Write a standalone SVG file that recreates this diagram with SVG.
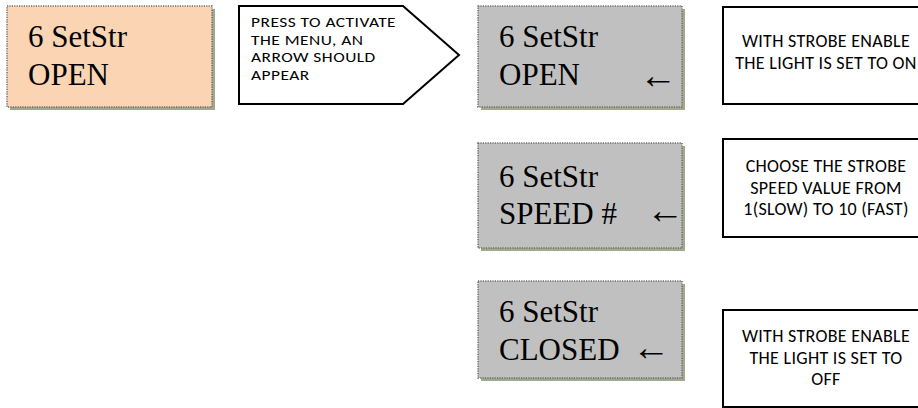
<svg xmlns="http://www.w3.org/2000/svg" width="918" height="408" viewBox="0 0 918 408">
<style>
.shadow{fill:#a2aa8e}
.lcd{stroke:#6a6a6a;stroke-width:1.5;stroke-dasharray:1.2 1.2}
.orange{fill:#fbd4b4}
.grey{fill:#c0c0c0}
.big{font-family:"Liberation Serif","Times New Roman",serif;font-size:31px;fill:#000}
.arr{font-family:"Liberation Serif","Times New Roman",serif;font-size:38px;fill:#000}
.note{font-family:Carlito,Calibri,"Liberation Sans",Arial,sans-serif;fill:#000}
.call{font-size:14.5px;letter-spacing:0.4px}
.side{font-size:18px;letter-spacing:0.3px}
.box{fill:#fff;stroke:#000;stroke-width:2}
</style>
<rect width="918" height="408" fill="#fff"/>
<g id="node-start">
<rect class="shadow" x="10" y="9" width="205" height="101"/>
<rect class="orange lcd" x="7" y="6" width="205" height="101"/>
<text class="big" x="28" y="47">6 SetStr</text>
<text class="big" x="28" y="85">OPEN</text>
</g>
<g id="node-callout">
<polygon class="box" stroke-width="1.8" points="239,6 403,6 459,55 403,104 239,104"/>
<g transform="translate(251,0) scale(1.2,1)">
<text class="note call" x="0" y="27">PRESS TO ACTIVATE</text>
<text class="note call" x="0" y="44.7">THE MENU, AN</text>
<text class="note call" x="0" y="62.4">ARROW SHOULD</text>
<text class="note call" x="0" y="80.1">APPEAR</text>
</g>
</g>
<g id="node-open">
<rect class="shadow" x="481" y="9" width="204" height="101"/>
<rect class="grey lcd" x="478" y="6" width="204" height="101"/>
<text class="big" x="499" y="47">6 SetStr</text>
<text class="big" x="499" y="85">OPEN</text>
<text class="arr" x="639" y="88">←</text>
</g>
<g id="node-speed">
<rect class="shadow" x="481" y="146" width="204" height="105"/>
<rect class="grey lcd" x="478" y="143" width="204" height="105"/>
<text class="big" x="499" y="187">6 SetStr</text>
<text class="big" x="499" y="224">SPEED #</text>
<text class="arr" x="646" y="223">←</text>
</g>
<g id="node-closed">
<rect class="shadow" x="481" y="284" width="204" height="97"/>
<rect class="grey lcd" x="478" y="281" width="204" height="97"/>
<text class="big" x="499" y="322">6 SetStr</text>
<text class="big" x="499" y="360">CLOSED</text>
<text class="arr" x="632" y="360">←</text>
</g>
<g id="node-note-on">
<rect class="box" x="723" y="7" width="220" height="97"/>
<text class="note side" text-anchor="middle" x="826" y="47">WITH STROBE ENABLE</text>
<text class="note side" text-anchor="middle" x="826" y="68.5">THE LIGHT IS SET TO ON</text>
</g>
<g id="node-note-speed">
<rect class="box" x="723" y="139" width="220" height="98"/>
<text class="note side" text-anchor="middle" x="826" y="172">CHOOSE THE STROBE</text>
<text class="note side" text-anchor="middle" x="826" y="193.5">SPEED VALUE FROM</text>
<text class="note side" text-anchor="middle" x="826" y="215">1(SLOW) TO 10 (FAST)</text>
</g>
<g id="node-note-off">
<rect class="box" x="723" y="310" width="220" height="97"/>
<text class="note side" text-anchor="middle" x="826" y="342">WITH STROBE ENABLE</text>
<text class="note side" text-anchor="middle" x="826" y="363.5">THE LIGHT IS SET TO</text>
<text class="note side" text-anchor="middle" x="826" y="385">OFF</text>
</g>
<g id="connectors"></g>
</svg>
